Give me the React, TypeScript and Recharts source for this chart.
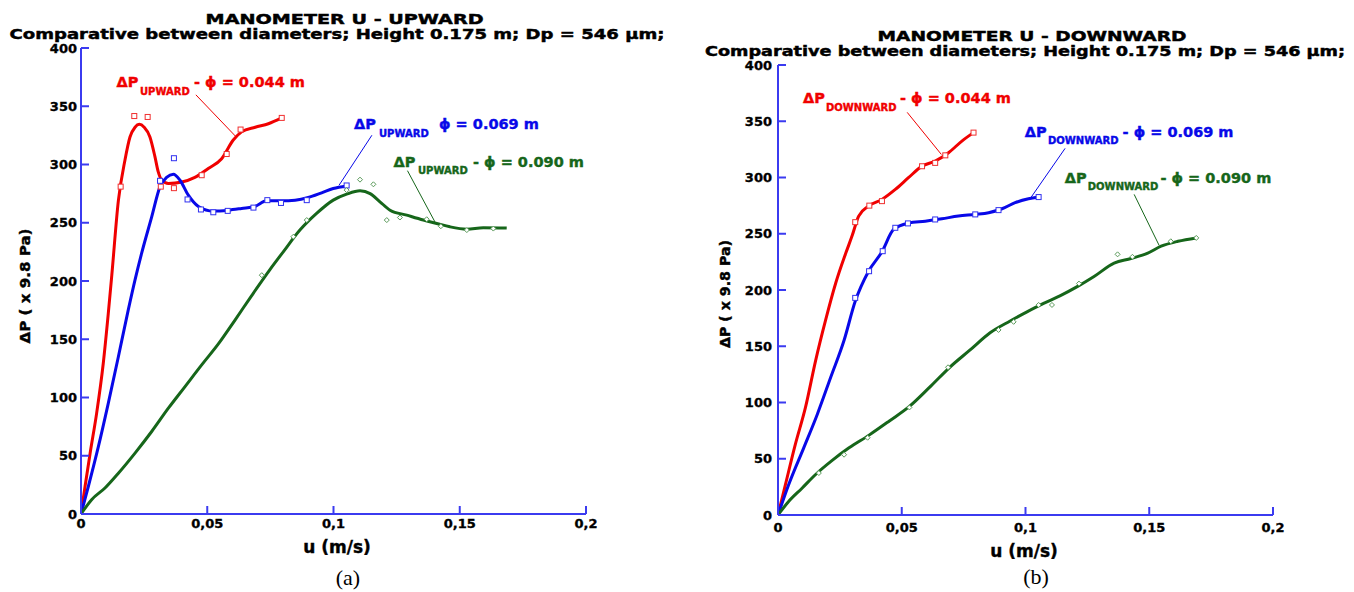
import React from 'react';
import { ComposedChart, Line, Scatter, XAxis, YAxis, ReferenceLine } from 'recharts';

// ---------- data (u in m/s, ΔP in x 9.8 Pa) ----------
const xTicks = [0, 0.05, 0.1, 0.15, 0.2];
const yTicks = [0, 50, 100, 150, 200, 250, 300, 350, 400];

const upRed044: [number, number][] = [
  [0, 0], [0.0016, 23.6], [0.0036, 52], [0.0062, 86.6], [0.0088, 129], [0.0108, 172], [0.0122, 205],
  [0.0148, 269], [0.0174, 303.7], [0.0194, 323.6], [0.0214, 332], [0.0231, 334.5], [0.025, 332],
  [0.0273, 323.6], [0.0293, 306.5], [0.0306, 293.6], [0.032, 286.5], [0.0346, 283.7], [0.0399, 285],
  [0.0451, 289], [0.0504, 296.6], [0.0557, 305], [0.0603, 321], [0.0636, 328], [0.069, 332],
  [0.0742, 335], [0.0795, 340],
];
const upRed044Pts: [number, number][] = [
  [0.0157, 281], [0.0211, 341.6], [0.0264, 340.8], [0.0316, 281], [0.0368, 279.7], [0.0478, 290.8],
  [0.0577, 309], [0.0632, 330], [0.0795, 340],
];
const upBlue069: [number, number][] = [
  [0, 0], [0.0029, 23.6], [0.0069, 58], [0.0108, 95], [0.0148, 135], [0.0187, 175], [0.0214, 201],
  [0.024, 223.7], [0.028, 255], [0.0313, 281], [0.0339, 289], [0.0366, 291.7], [0.0392, 286.5],
  [0.0425, 273.7], [0.0465, 264], [0.0524, 260], [0.0583, 260.8], [0.0636, 262.3], [0.0689, 264],
  [0.0735, 268.8], [0.0795, 268.8], [0.0848, 269.4], [0.09, 271.7], [0.0953, 275.7], [0.0999, 279.4],
  [0.1052, 281.6],
];
const upBlue069Pts: [number, number][] = [
  [0.0313, 286], [0.0368, 305.4], [0.0422, 270], [0.0475, 261.4], [0.0524, 259], [0.0581, 260.2],
  [0.0683, 263], [0.0738, 269.4], [0.0792, 267], [0.0894, 269.4], [0.1052, 282],
];
const upGreen090: [number, number][] = [
  [0, 0], [0.0042, 12.3], [0.0095, 22.3], [0.0148, 35], [0.0214, 52.3], [0.028, 70.8], [0.0346, 90.8],
  [0.0412, 109.4], [0.0478, 128], [0.0544, 146], [0.061, 166.5], [0.0676, 187.5], [0.0749, 210],
  [0.0801, 225], [0.0867, 243.7], [0.0933, 258], [0.0999, 269.4], [0.1052, 274.5], [0.1105, 277.4],
  [0.1145, 275], [0.1184, 268], [0.1224, 260.8], [0.129, 256.5], [0.1356, 252.3], [0.1409, 249.4],
  [0.1461, 246.5], [0.1528, 244.5], [0.1593, 245.7], [0.1686, 245.4],
];
const upGreen090Pts: [number, number][] = [
  [0.0716, 205], [0.0841, 238], [0.0894, 252.3], [0.1052, 278], [0.1105, 287], [0.1158, 283],
  [0.1211, 252.3], [0.1263, 254.5], [0.1369, 253], [0.1425, 247], [0.1528, 243.7], [0.1633, 245],
];

const downRed044: [number, number][] = [
  [0, 0], [0.003, 27], [0.007, 62.7], [0.0111, 95.6], [0.0152, 137.3], [0.0192, 173], [0.0233, 206],
  [0.0274, 232.8], [0.0299, 247.9], [0.0326, 265.7], [0.0366, 274.6], [0.042, 280.5], [0.0474, 289.4],
  [0.0527, 299.8], [0.0582, 310.1], [0.0635, 314.6], [0.0689, 322], [0.0743, 332.4], [0.079, 339.9],
];
const downRed044Pts: [number, number][] = [
  [0.0312, 260.3], [0.0369, 275], [0.042, 279], [0.0582, 310], [0.0635, 313], [0.0676, 319.7], [0.079, 339.9],
];
const downBlue069: [number, number][] = [
  [0, 0], [0.0043, 26.9], [0.0104, 59.7], [0.0159, 89.6], [0.0213, 122.4], [0.0267, 155.3], [0.0312, 190],
  [0.0366, 216.7], [0.042, 234], [0.0467, 253.8], [0.0527, 259.5], [0.0595, 261.2], [0.0662, 263.3],
  [0.0729, 265.7], [0.0797, 267.2], [0.0851, 268.7], [0.0905, 272.2], [0.0958, 277.6], [0.1012, 281.1],
  [0.1053, 282.6],
];
const downBlue069Pts: [number, number][] = [
  [0.0312, 193], [0.0368, 216.7], [0.0423, 234.5], [0.0474, 255.3], [0.0525, 259.2], [0.0635, 262.7],
  [0.0797, 267.2], [0.0891, 271], [0.1053, 282.6],
];
const downGreen090: [number, number][] = [
  [0, 0], [0.0043, 12], [0.0097, 23.8], [0.0152, 36], [0.0219, 48.5], [0.0287, 59.7], [0.0368, 71],
  [0.045, 83.6], [0.0531, 96.5], [0.0612, 113.4], [0.0694, 131.3], [0.0775, 146.5], [0.0857, 162],
  [0.0938, 172.5], [0.1006, 180.6], [0.1073, 188.1], [0.1141, 195], [0.1209, 203], [0.1277, 212],
  [0.1358, 223.9], [0.1426, 228], [0.1494, 232.8], [0.1548, 238.9], [0.1616, 243.3], [0.169, 246.3],
];
const downGreen090Pts: [number, number][] = [
  [0.0165, 37.3], [0.0267, 53.6], [0.0362, 68.7], [0.0531, 95.6], [0.0687, 131.3], [0.0891, 164.5],
  [0.0952, 171.7], [0.1053, 186.7], [0.1107, 186.7], [0.1216, 205.7], [0.1372, 231.7], [0.1432, 229.5],
  [0.1587, 243.3], [0.169, 246.3],
];

// leader lines [u1, p1, u2, p2]
const upLeaders: { c: string; seg: [number, number, number, number] }[] = [
  { c: 'red', seg: [0.0455, 359.8, 0.0614, 323.8] },
  { c: 'blue', seg: [0.1152, 325.1, 0.1022, 282.2] },
  { c: 'green', seg: [0.1293, 294.7, 0.1405, 249.4] },
];
const downLeaders: { c: string; seg: [number, number, number, number] }[] = [
  { c: 'red', seg: [0.0522, 357.9, 0.066, 320.5] },
  { c: 'blue', seg: [0.116, 325.9, 0.1021, 281.9] },
  { c: 'green', seg: [0.1439, 285, 0.154, 239.6] },
];

// ---------- styles ----------
const FONT = "'DejaVu Sans', Verdana, sans-serif";
const AXIS = '#3b3bf0';
const COLORS: Record<string, string> = { red: '#f00000', blue: '#0808e8', green: '#16661a' };
const MARK: Record<string, string> = { red: '#f03030', blue: '#3030f0', green: '#5a9a5a' };

const toObj = (a: [number, number][]) => a.map(([u, p]) => ({ u, p }));

const square = (color: string) => (props: any) => {
  const { cx, cy } = props;
  if (cx == null || cy == null) return <g />;
  return <rect x={cx - 2.5} y={cy - 2.5} width={5} height={5} fill="#fff" stroke={color} strokeWidth={1} />;
};
const diamond = (color: string) => (props: any) => {
  const { cx, cy } = props;
  if (cx == null || cy == null) return <g />;
  return (
    <path d={`M${cx},${cy - 2.5}L${cx + 2.5},${cy}L${cx},${cy + 2.5}L${cx - 2.5},${cy}Z`} fill="#fff" stroke={color} strokeWidth={1} />
  );
};

const emptyTick = () => <g />;
const tickStyle = { fill: '#000', stroke: '#000', strokeWidth: 0.35, fontSize: 13, fontWeight: 'bold', fontFamily: FONT };

type Series = { key: string; color: string; line: [number, number][]; pts: [number, number][]; marker: 'sq' | 'di' };

function Panel(props: {
  left: number; top: number; width: number; height: number;
  margin: { top: number; right: number; bottom: number; left: number };
  yAxisWidth: number; xTickMargin: number; yTickMargin: number;
  series: Series[]; leaders: { c: string; seg: [number, number, number, number] }[];
}) {
  const { series, leaders } = props;
  return (
    <div style={{ position: 'absolute', left: props.left, top: props.top }}>
      <ComposedChart width={props.width} height={props.height} margin={props.margin}>
        <XAxis
          xAxisId="b" dataKey="u" type="number" domain={[0, 0.2]} ticks={xTicks} interval={0}
          allowDataOverflow height={30} tickSize={-8} tickMargin={props.xTickMargin}
          stroke={AXIS} strokeWidth={2} tick={tickStyle}
          tickFormatter={(v: number) => String(v).replace('.', ',')}
        />
        <XAxis
          xAxisId="t" orientation="top" dataKey="u" type="number" domain={[0, 0.2]} ticks={xTicks}
          interval={0} height={0} tickSize={-8} stroke={AXIS} strokeWidth={2} tick={emptyTick}
        />
        <YAxis
          yAxisId="l" type="number" domain={[0, 400]} ticks={yTicks} interval={0} width={props.yAxisWidth}
          tickSize={-8} tickMargin={props.yTickMargin} stroke={AXIS} strokeWidth={2} tick={tickStyle}
        />
        <YAxis
          yAxisId="r" orientation="right" type="number" domain={[0, 400]} ticks={yTicks} interval={0}
          width={0} tickSize={-8} stroke={AXIS} strokeWidth={2} tick={emptyTick}
        />
        {leaders.map((l, i) => (
          <ReferenceLine
            key={'ld' + i} xAxisId="b" yAxisId="l"
            segment={[{ x: l.seg[0], y: l.seg[1] }, { x: l.seg[2], y: l.seg[3] }]}
            stroke={COLORS[l.c]} strokeWidth={1} ifOverflow="visible"
          />
        ))}
        {series.map((s) => (
          <Line
            key={s.key} xAxisId="b" yAxisId="l" data={toObj(s.line)} dataKey="p" type="monotone"
            stroke={COLORS[s.color]} strokeWidth={3} dot={false} isAnimationActive={false}
          />
        ))}
        {series.map((s) => (
          <Scatter
            key={s.key + 'm'} xAxisId="b" yAxisId="l" data={toObj(s.pts)} dataKey="p"
            shape={s.marker === 'sq' ? square(MARK[s.color]) : diamond(MARK[s.color])}
            isAnimationActive={false}
          />
        ))}
      </ComposedChart>
    </div>
  );
}

function Annot(props: { x: number; y: number; subX: number; subDy: number; restX: number; sub: string; rest: string; color: string }) {
  const { x, y, subX, subDy, restX, sub, rest, color } = props;
  return (
    <g fill={color} stroke={color} strokeWidth={0.4} fontFamily={FONT} fontWeight="bold">
      <text x={x} y={y} fontSize={14.5}>ΔP</text>
      <text x={subX} y={y + subDy} fontSize={10}>{sub}</text>
      <text x={restX} y={y} fontSize={14.5}>{rest}</text>
    </g>
  );
}

export default function App() {
  const upSeries: Series[] = [
    { key: 'r', color: 'red', line: upRed044, pts: upRed044Pts, marker: 'sq' },
    { key: 'b', color: 'blue', line: upBlue069, pts: upBlue069Pts, marker: 'sq' },
    { key: 'g', color: 'green', line: upGreen090, pts: upGreen090Pts, marker: 'di' },
  ];
  const downSeries: Series[] = [
    { key: 'r', color: 'red', line: downRed044, pts: downRed044Pts, marker: 'sq' },
    { key: 'b', color: 'blue', line: downBlue069, pts: downBlue069Pts, marker: 'sq' },
    { key: 'g', color: 'green', line: downGreen090, pts: downGreen090Pts, marker: 'di' },
  ];
  return (
    <div style={{ position: 'absolute', left: 0, top: 0, width: 1354, height: 592, background: '#fff', overflow: 'hidden' }}>
      <Panel
        left={0} top={0} width={680} height={592}
        margin={{ top: 48, right: 94, bottom: 48, left: 0 }}
        yAxisWidth={81} xTickMargin={13} yTickMargin={12}
        series={upSeries} leaders={upLeaders}
      />
      <Panel
        left={680} top={0} width={674} height={592}
        margin={{ top: 65, right: 81, bottom: 47, left: 0 }}
        yAxisWidth={98} xTickMargin={16} yTickMargin={14}
        series={downSeries} leaders={downLeaders}
      />
      <svg width={1354} height={592} style={{ position: 'absolute', left: 0, top: 0, pointerEvents: 'none' }}>
        <g fontFamily={FONT} fontWeight="bold" fill="#000" stroke="#000" strokeWidth={0.45} fontSize={14}>
          <text x={344.6} y={23.5} textAnchor="middle" textLength={278} lengthAdjust="spacingAndGlyphs">MANOMETER U - UPWARD</text>
          <text x={337} y={39} textAnchor="middle" textLength={655} lengthAdjust="spacingAndGlyphs">Comparative between diameters; Height 0.175 m; Dp = 546 μm;</text>
          <text x={1032} y={40.5} textAnchor="middle" textLength={309} lengthAdjust="spacingAndGlyphs">MANOMETER U - DOWNWARD</text>
          <text x={1025} y={56} fontSize={13.5} textAnchor="middle" textLength={640} lengthAdjust="spacingAndGlyphs">Comparative between diameters; Height 0.175 m; Dp = 546 μm;</text>
        </g>
        <g fontFamily={FONT} fontWeight="bold" fill="#000" stroke="#000" strokeWidth={0.4}>
          <text x={0} y={0} fontSize={14} textAnchor="middle" textLength={115} lengthAdjust="spacingAndGlyphs" transform="translate(30,286) rotate(-90)">ΔP ( x 9.8 Pa)</text>
          <text x={0} y={0} fontSize={14} textAnchor="middle" textLength={108} lengthAdjust="spacingAndGlyphs" transform="translate(730,294) rotate(-90)">ΔP ( x 9.8 Pa)</text>
          <text x={337} y={553} fontSize={17} textAnchor="middle">u (m/s)</text>
          <text x={1024} y={557} fontSize={17} textAnchor="middle">u (m/s)</text>
        </g>
        <g fontFamily="'Liberation Serif', 'Times New Roman', serif" fill="#000" fontSize={22}>
          <text x={348} y={585} textAnchor="middle">(a)</text>
          <text x={1036} y={584} textAnchor="middle">(b)</text>
        </g>
        <Annot x={116.5} y={87} subX={140} subDy={8} restX={194} sub="UPWARD" rest="- ϕ = 0.044 m" color={COLORS.red} />
        <Annot x={354} y={129.3} subX={379} subDy={7.5} restX={439} sub="UPWARD" rest="ϕ = 0.069 m" color={COLORS.blue} />
        <Annot x={393.5} y={167} subX={418} subDy={7} restX={473} sub="UPWARD" rest="- ϕ = 0.090 m" color={COLORS.green} />
        <Annot x={803} y={103} subX={826} subDy={8} restX={900} sub="DOWNWARD" rest="- ϕ = 0.044 m" color={COLORS.red} />
        <Annot x={1024.8} y={136.7} subX={1048} subDy={7.5} restX={1122.6} sub="DOWNWARD" rest="- ϕ = 0.069 m" color={COLORS.blue} />
        <Annot x={1064.8} y={182.7} subX={1087.8} subDy={7} restX={1160.4} sub="DOWNWARD" rest="- ϕ = 0.090 m" color={COLORS.green} />
      </svg>
    </div>
  );
}
